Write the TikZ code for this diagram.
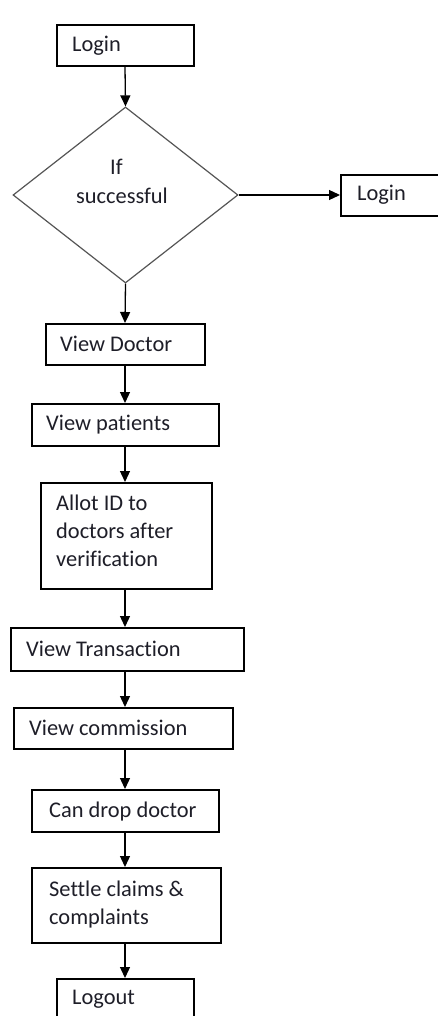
\documentclass[tikz,border=0pt]{standalone}
\usepackage{fontspec}
\setmainfont{Carlito}[Ligatures={NoCommon,NoRare,NoContextual}]
\usetikzlibrary{arrows.meta,shapes.geometric,calc}
\definecolor{txtc}{RGB}{30,30,40}
\definecolor{dline}{RGB}{85,85,85}
\tikzset{
  box/.style={draw=black, line width=1.6pt, rectangle, inner sep=0pt, anchor=north west},
  lbl/.style={anchor=base west, inner sep=0pt, text=txtc, font=\fontsize{22.4}{28}\selectfont},
  arr/.style={line width=1.3pt, -{Triangle[length=11pt,width=10pt]}},
}
\begin{document}
\begin{tikzpicture}[x=1pt,y=-1pt]
\clip (0,0) rectangle (438,1016);
\fill[white] (0,0) rectangle (438,1016);
\coordinate (axis) at (125,0);
% boxes
\node[box, minimum width=137pt, minimum height=41pt] (login1) at (56,24) {};
\node[lbl] (t1) at (72,52) {Login};
\node[draw=dline, line width=1.2pt, diamond, inner sep=0pt, minimum width=225pt, minimum height=176pt] (dec) at (125.5,195) {};
\node[lbl] (t2a) at (110,175) {If};
\node[lbl] (t2b) at (76,204) {successful};
\node[box, minimum width=120pt, minimum height=41pt] (login2) at (340,174) {};
\node[lbl] (t3) at (357,201) {Login};
\node[box, minimum width=159pt, minimum height=41pt] (vdoc) at (45,323) {};
\node[lbl] (t4) at (60,351) {View Doctor};
\node[box, minimum width=187pt, minimum height=42pt] (vpat) at (31,403) {};
\node[lbl] (t5) at (46,430) {View patients};
\node[box, minimum width=171pt, minimum height=106pt] (allot) at (40,482) {};
\node[lbl] (t6a) at (56,510) {Allot ID to};
\node[lbl] (t6b) at (56,538) {doctors after};
\node[lbl] (t6c) at (56,566) {verification};
\node[box, minimum width=233pt, minimum height=43pt] (vtr) at (10,627) {};
\node[lbl] (t7) at (26,656) {View Transaction};
\node[box, minimum width=219pt, minimum height=41pt] (vcom) at (13,707) {};
\node[lbl] (t8) at (29,735) {View commission};
\node[box, minimum width=187pt, minimum height=42pt] (drop) at (31,789) {};
\node[lbl] (t9) at (49,817) {Can drop doctor};
\node[box, minimum width=189pt, minimum height=75pt] (settle) at (31,867) {};
\node[lbl] (t10a) at (49,896) {Settle claims \&};
\node[lbl] (t10b) at (49,924) {complaints};
\node[box, minimum width=137pt, minimum height=60pt] (logout) at (56,978) {};
\node[lbl] (t11) at (72,1004) {Logout};
% connectors
\draw[arr] (login1.south -| axis) -- (dec.north);
\draw[arr] (dec.east) -- (login2.west |- dec.east);
\draw[arr] (dec.south) -- (vdoc.north -| axis);
\draw[arr] (vdoc.south -| axis) -- (vpat.north -| axis);
\draw[arr] (vpat.south -| axis) -- (allot.north -| axis);
\draw[arr] (allot.south -| axis) -- (vtr.north -| axis);
\draw[arr] (vtr.south -| axis) -- (vcom.north -| axis);
\draw[arr] (vcom.south -| axis) -- (drop.north -| axis);
\draw[arr] (drop.south -| axis) -- (settle.north -| axis);
\draw[arr] (settle.south -| axis) -- (logout.north -| axis);
\end{tikzpicture}
\end{document}
